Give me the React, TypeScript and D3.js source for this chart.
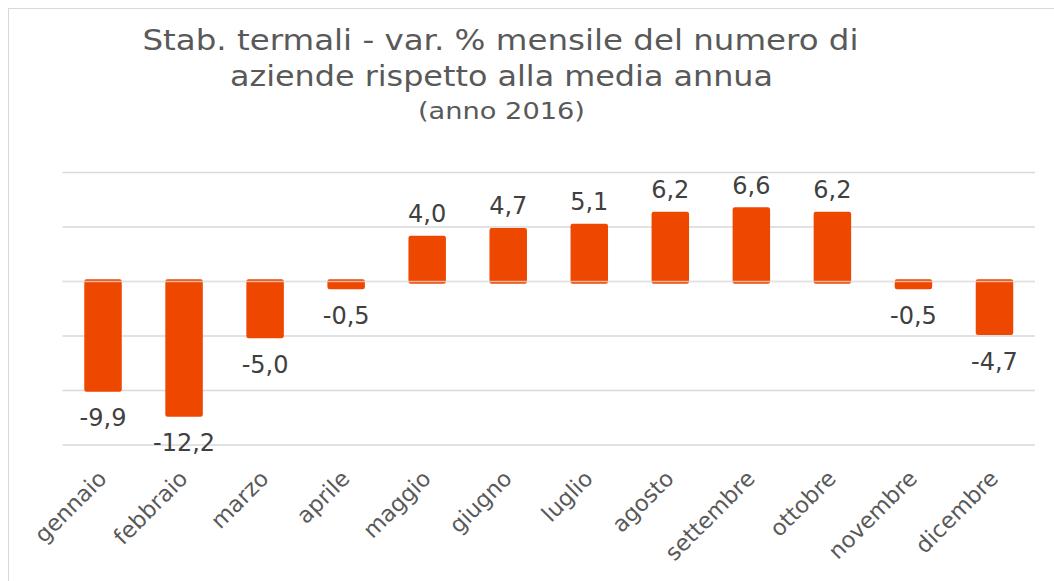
import React from "react";
import * as d3 from "d3";

const months = [
  "gennaio",
  "febbraio",
  "marzo",
  "aprile",
  "maggio",
  "giugno",
  "luglio",
  "agosto",
  "settembre",
  "ottobre",
  "novembre",
  "dicembre",
];
const values = [-9.9, -12.2, -5.0, -0.5, 4.0, 4.7, 5.1, 6.2, 6.6, 6.2, -0.5, -4.7];
const yTicks = [10, 5, 0, -5, -10, -15];
const titleLines = [
  "Stab. termali - var. % mensile del numero di",
  "aziende rispetto alla media annua",
];
const subtitle = "(anno 2016)";

const W = 1054;
const H = 581;
const FONT = "'DejaVu Sans', Verdana, sans-serif";
const BAR = "#EE4700";

export default function App() {
  const x = d3
    .scaleBand<string>()
    .domain(months)
    .range([62.5, 1035])
    .paddingInner(0.593)
    .paddingOuter(0.2965);
  const y = d3.scaleLinear().domain([-15, 10]).range([445, 172.5]);
  const fmt = (v: number) => v.toFixed(1).replace(".", ",");
  const sw = 4.5;

  return (
    <svg
      width={W}
      height={H}
      style={{ position: "absolute", left: 0, top: 0, display: "block", background: "#fff" }}
    >
      <rect x={8.5} y={8.5} width={1100} height={700} fill="#fff" stroke="#d9d9d9" strokeWidth={1} />

      {/* title */}
      <text x={500.5} y={50} textAnchor="middle" fontFamily={FONT} fontSize={28} fill="#595959"
        textLength={716} lengthAdjust="spacingAndGlyphs">
        {titleLines[0]}
      </text>
      <text x={501.5} y={86} textAnchor="middle" fontFamily={FONT} fontSize={28} fill="#595959"
        textLength={543} lengthAdjust="spacingAndGlyphs">
        {titleLines[1]}
      </text>
      <text x={501.5} y={119} textAnchor="middle" fontFamily={FONT} fontSize={23} fill="#595959"
        textLength={167} lengthAdjust="spacingAndGlyphs">
        {subtitle}
      </text>

      {/* gridlines */}
      {yTicks.map((t) => (
        <line key={t} x1={62.5} x2={1035} y1={y(t)} y2={y(t)} stroke="#d9d9d9" strokeWidth={1.5} />
      ))}

      {/* bars */}
      {values.map((v, i) => {
        const bx = x(months[i])!;
        const y0 = y(Math.max(0, v));
        const y1 = y(Math.min(0, v));
        return (
          <rect
            key={months[i]}
            x={bx}
            y={y0}
            width={x.bandwidth()}
            height={Math.max(0.5, y1 - y0)}
            fill={BAR}
            stroke={BAR}
            strokeWidth={sw}
            strokeLinejoin="round"
          />
        );
      })}

      {/* zero line over bars */}
      <line x1={62.5} x2={1035} y1={y(0)} y2={y(0)} stroke="#e6e6e6" strokeOpacity={0.7} strokeWidth={1.5} />

      {/* data labels */}
      {values.map((v, i) => {
        const cx = x(months[i])! + x.bandwidth() / 2;
        const ly = v >= 0 ? y(v) - 16 : y(v) + 37;
        return (
          <text key={"l" + i} x={cx} y={ly} textAnchor="middle" fontFamily={FONT} fontSize={24} fill="#404040">
            {fmt(v)}
          </text>
        );
      })}

      {/* x axis labels */}
      {months.map((m) => {
        const cx = x(m)! + x.bandwidth() / 2 + 5;
        const ly = 480;
        return (
          <text
            key={"x" + m}
            x={cx}
            y={ly}
            textAnchor="end"
            fontFamily={FONT}
            fontSize={22.5}
            fill="#595959"
            transform={`rotate(-45 ${cx} ${ly})`}
          >
            {m}
          </text>
        );
      })}
    </svg>
  );
}
